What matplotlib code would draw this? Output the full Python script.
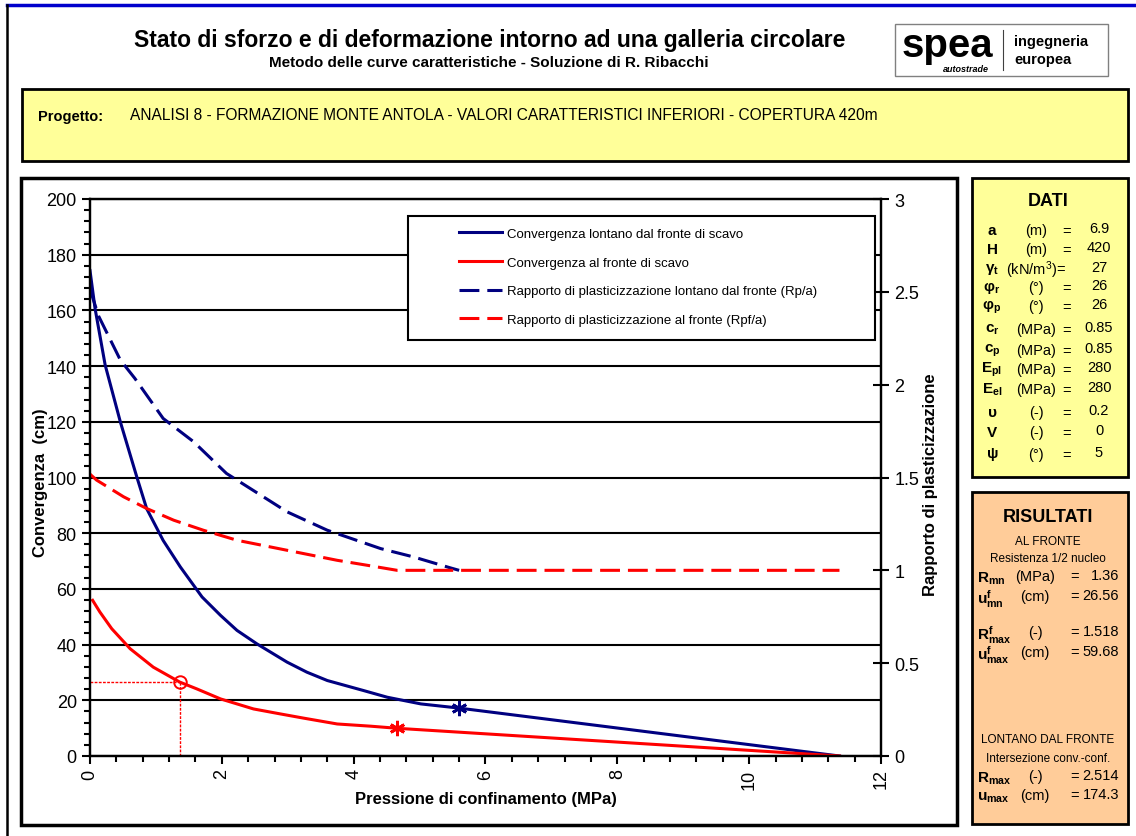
import matplotlib
matplotlib.use("Agg")
import matplotlib.pyplot as plt
from matplotlib.patches import Rectangle
from matplotlib.lines import Line2D
from matplotlib.ticker import MultipleLocator, FuncFormatter

plt.rcParams['font.family'] = ['Liberation Sans', 'DejaVu Sans']
plt.rcParams['mathtext.fontset'] = 'custom'
plt.rcParams['mathtext.rm'] = 'Liberation Sans'
plt.rcParams['mathtext.bf'] = 'Liberation Sans:bold'
plt.rcParams['mathtext.it'] = 'Liberation Sans:italic'

# ---- data ----
# convergence far from the face (cm) vs confining pressure (MPa)
p_far = [0, 0.076, 0.23, 0.46, 0.71, 0.86, 1.11, 1.37, 1.70, 1.98, 2.23, 2.53, 2.99, 3.29, 3.60, 4.15, 4.51, 5.02, 5.60, 11.37]
u_far = [174.3, 160.8, 140.4, 120.0, 100.2, 88.8, 77.4, 67.9, 57.1, 50.5, 45.1, 40.3, 33.7, 30.1, 27.1, 23.5, 21.1, 18.7, 17.2, 0]
# convergence at the face
p_face = [0.04, 0.15, 0.33, 0.61, 0.96, 1.36, 1.62, 1.98, 2.23, 2.48, 2.89, 3.24, 3.75, 4.26, 4.66, 11.37]
u_face = [55.9, 51.7, 45.7, 38.5, 31.9, 26.56, 24.1, 20.5, 18.7, 16.9, 15.1, 13.6, 11.5, 10.7, 9.95, 0]
# plastic radius ratio far from the face (Rp/a)
p_rp = [0, 0.13, 0.46, 0.68, 1.11, 1.57, 2.07, 2.99, 3.60, 4.41, 4.91, 5.47, 5.60]
rp_far = [2.514, 2.37, 2.133, 2.034, 1.818, 1.693, 1.522, 1.315, 1.216, 1.117, 1.072, 1.013, 1.0]
# plastic radius ratio at the face (Rpf/a)
p_rpf = [0, 0.10, 0.51, 0.86, 1.27, 1.72, 2.23, 2.99, 3.75, 4.26, 4.66, 11.37]
rpf_face = [1.518, 1.486, 1.396, 1.333, 1.270, 1.216, 1.162, 1.108, 1.054, 1.024, 1.0, 1.0]

R_mn = 1.36
uf_mn = 26.56

legend_labels = ['Convergenza lontano dal fronte di scavo',
                 'Convergenza al fronte di scavo',
                 'Rapporto di plasticizzazione lontano dal fronte (Rp/a)',
                 'Rapporto di plasticizzazione al fronte (Rpf/a)']

dati_sym = [r'$\mathbf{a}$', r'$\mathbf{H}$', r'$\mathbf{\gamma_t}$', r'$\mathbf{\varphi_r}$',
            r'$\mathbf{\varphi_p}$', r'$\mathbf{c_r}$', r'$\mathbf{c_p}$', r'$\mathbf{E_{pl}}$',
            r'$\mathbf{E_{el}}$', r'$\mathbf{\upsilon}$', r'$\mathbf{V}$', r'$\mathbf{\psi}$']
dati_unit = ['(m)', '(m)', r'(kN/m$^3$)=', '(°)', '(°)', '(MPa)', '(MPa)', '(MPa)', '(MPa)', '(-)', '(-)', '(°)']
dati_val = ['6.9', '420', '27', '26', '26', '0.85', '0.85', '280', '280', '0.2', '0', '5']
dati_y = [231, 250, 270, 288, 307, 330, 351, 370, 390, 413, 433, 455]

ris_sym = [r'$\mathbf{R_{mn}}$', r'$\mathbf{u^f_{mn}}$', r'$\mathbf{R^f_{max}}$',
           r'$\mathbf{u^f_{max}}$', r'$\mathbf{R_{max}}$', r'$\mathbf{u_{max}}$']
ris_unit = ['(MPa)', '(cm)', '(-)', '(cm)', '(-)', '(cm)']
ris_val = ['1.36', '26.56', '1.518', '59.68', '2.514', '174.3']
ris_y = [579, 599, 635, 655, 779, 798]

W, H = 1136, 837
fig = plt.figure(figsize=(W / 100, H / 100), dpi=100)


def fx(x):
    return x / W


def fy(y):
    return 1 - y / H


def box(x0, y0, x1, y1, fc, ec='black', lw=2.0, z=-1):
    fig.add_artist(Rectangle((fx(x0), fy(y1)), fx(x1) - fx(x0), fy(y0) - fy(y1),
                             transform=fig.transFigure, facecolor=fc, edgecolor=ec, lw=lw, zorder=z))


# page frame
fig.add_artist(Line2D([fx(7), 1], [fy(6), fy(6)], color='#0000CC', lw=2.5, transform=fig.transFigure))
fig.add_artist(Line2D([fx(7), fx(7)], [fy(6), 0], color='black', lw=1.8, transform=fig.transFigure))

# header
fig.text(fx(490), fy(40), 'Stato di sforzo e di deformazione intorno ad una galleria circolare',
         ha='center', va='center', fontsize=16.5, fontweight='bold')
fig.text(fx(489), fy(63), 'Metodo delle curve caratteristiche - Soluzione di R. Ribacchi',
         ha='center', va='center', fontsize=11, fontweight='bold')

# logo
box(895, 25, 1108, 77, 'white', ec='#808080', lw=1.0)
fig.text(fx(947), fy(57), 'spea', ha='center', va='baseline', fontsize=29, fontweight='heavy')
fig.text(fx(966), fy(69), 'autostrade', ha='center', va='center', fontsize=6.5,
         fontweight='bold', style='italic')
fig.add_artist(Line2D([fx(1003), fx(1003)], [fy(31), fy(71)], color='#404040', lw=0.8,
                      transform=fig.transFigure))
fig.text(fx(1014), fy(42), 'ingegneria', ha='left', va='center', fontsize=10.5, fontweight='bold')
fig.text(fx(1014), fy(60), 'europea', ha='left', va='center', fontsize=10.5, fontweight='bold')

# project box
box(22, 90, 1128, 162, '#FFFF99')
fig.text(fx(38), fy(117), 'Progetto:', ha='left', va='center', fontsize=10.5, fontweight='bold')
fig.text(fx(130), fy(116), 'ANALISI 8 - FORMAZIONE MONTE ANTOLA - VALORI CARATTERISTICI INFERIORI - COPERTURA 420m',
         ha='left', va='center', fontsize=11.2)

# chart box
box(21, 179, 957, 826, 'white', lw=2.5)

# DATI box
box(972, 179, 1128, 478, '#FFFF99')
fig.text(fx(1048), fy(202), 'DATI', ha='center', va='center', fontsize=13, fontweight='bold')
for s, u, v, y in zip(dati_sym, dati_unit, dati_val, dati_y):
    fig.text(fx(992), fy(y), s, ha='center', va='center', fontsize=11)
    fig.text(fx(1036), fy(y), u, ha='center', va='center', fontsize=10.5)
    if not u.endswith('='):
        fig.text(fx(1067), fy(y + 1), '=', ha='center', va='center', fontsize=10.5)
    fig.text(fx(1099), fy(y - 2), v, ha='center', va='center', fontsize=10.5)

# RISULTATI box
box(972, 493, 1128, 825, '#FFCC99')
fig.text(fx(1048), fy(518), 'RISULTATI', ha='center', va='center', fontsize=13, fontweight='bold')
fig.text(fx(1048), fy(542), 'AL FRONTE', ha='center', va='center', fontsize=8.5)
fig.text(fx(1048), fy(559), 'Resistenza 1/2 nucleo', ha='center', va='center', fontsize=8.5)
fig.text(fx(1048), fy(740), 'LONTANO DAL FRONTE', ha='center', va='center', fontsize=8.5)
fig.text(fx(1048), fy(759), 'Intersezione conv.-conf.', ha='center', va='center', fontsize=8.5)
for s, u, v, y in zip(ris_sym, ris_unit, ris_val, ris_y):
    fig.text(fx(977), fy(y), s, ha='left', va='center', fontsize=11)
    fig.text(fx(1035), fy(y - 2), u, ha='center', va='center', fontsize=10.5)
    fig.text(fx(1075), fy(y - 2), '=', ha='center', va='center', fontsize=10.5)
    fig.text(fx(1119), fy(y - 3), v, ha='right', va='center', fontsize=10.5)

# ---- plot ----
ax = fig.add_axes([fx(90), fy(757), fx(881) - fx(90), fy(200) - fy(757)])
ax.set_xlim(0, 12)
ax.set_ylim(0, 200)
ax.xaxis.set_major_locator(MultipleLocator(2))
ax.xaxis.set_minor_locator(MultipleLocator(0.4))
ax.yaxis.set_major_locator(MultipleLocator(20))
ax.yaxis.set_minor_locator(MultipleLocator(4))
ax.grid(axis='y', which='major', color='black', lw=1.5)
ax.set_axisbelow(True)
for sp in ax.spines.values():
    sp.set_linewidth(1.6)
ax.tick_params(axis='both', which='major', direction='out', length=6, width=1.5, labelsize=13)
ax.tick_params(axis='both', which='minor', direction='out', length=4, width=1.5)
ax.tick_params(axis='x', labelrotation=90, pad=3)
ax.set_xlabel('Pressione di confinamento (MPa)', fontsize=12, fontweight='bold', labelpad=2)
ax.set_ylabel('Convergenza  (cm)', fontsize=12, fontweight='bold')
ax.yaxis.set_label_coords((48 - 90) / 791, (757 - 483) / 557)

navy = '#000080'
red = '#FF0000'
l1, = ax.plot(p_far, u_far, color=navy, lw=2.2)
l2, = ax.plot(p_face, u_face, color=red, lw=2.2)
# points at the end of the plastic branch
ax.plot(p_far[-2], u_far[-2], marker=(6, 2, 0), ms=11, mew=2, color=navy)
ax.plot(p_face[-2], u_face[-2], marker=(6, 2, 0), ms=11, mew=2, color=red)
# core resistance point
ax.plot([0, R_mn], [uf_mn, uf_mn], color=red, lw=1, ls=(0, (2, 1)))
ax.plot([R_mn, R_mn], [0, uf_mn], color=red, lw=1, ls=(0, (2, 1)))
ax.plot(R_mn, uf_mn, marker='o', ms=9, mfc='none', mec=red, mew=1.4)

ax2 = ax.twinx()
ax2.set_ylim(0, 3)
ax2.yaxis.set_major_locator(MultipleLocator(0.5))
ax2.yaxis.set_major_formatter(FuncFormatter(lambda v, p: '%g' % v))
ax2.tick_params(axis='y', direction='inout', length=11, width=1.5, labelsize=13, pad=4)
for sp in ax2.spines.values():
    sp.set_linewidth(1.6)
ax2.set_ylabel('Rapporto di plasticizzazione', fontsize=12, fontweight='bold')
ax2.yaxis.set_label_coords((923 - 90) / 791, (757 - 485) / 557)
l3, = ax2.plot(p_rp, rp_far, color=navy, lw=2.2, dashes=(6.5, 2.6))
l4, = ax2.plot(p_rpf, rpf_face, color=red, lw=2.2, dashes=(6.5, 2.6))

# legend
box(408, 217, 875, 341, 'white', lw=1.5, z=3)
fig.legend([l1, l2, l3, l4], legend_labels, loc='upper left',
           bbox_to_anchor=(fx(452), fy(222)), frameon=False, fontsize=9.5,
           handlelength=3.3, handletextpad=0.4, labelspacing=1.25, borderpad=0).set_zorder(5)

fig.savefig('out.png', dpi=100)
